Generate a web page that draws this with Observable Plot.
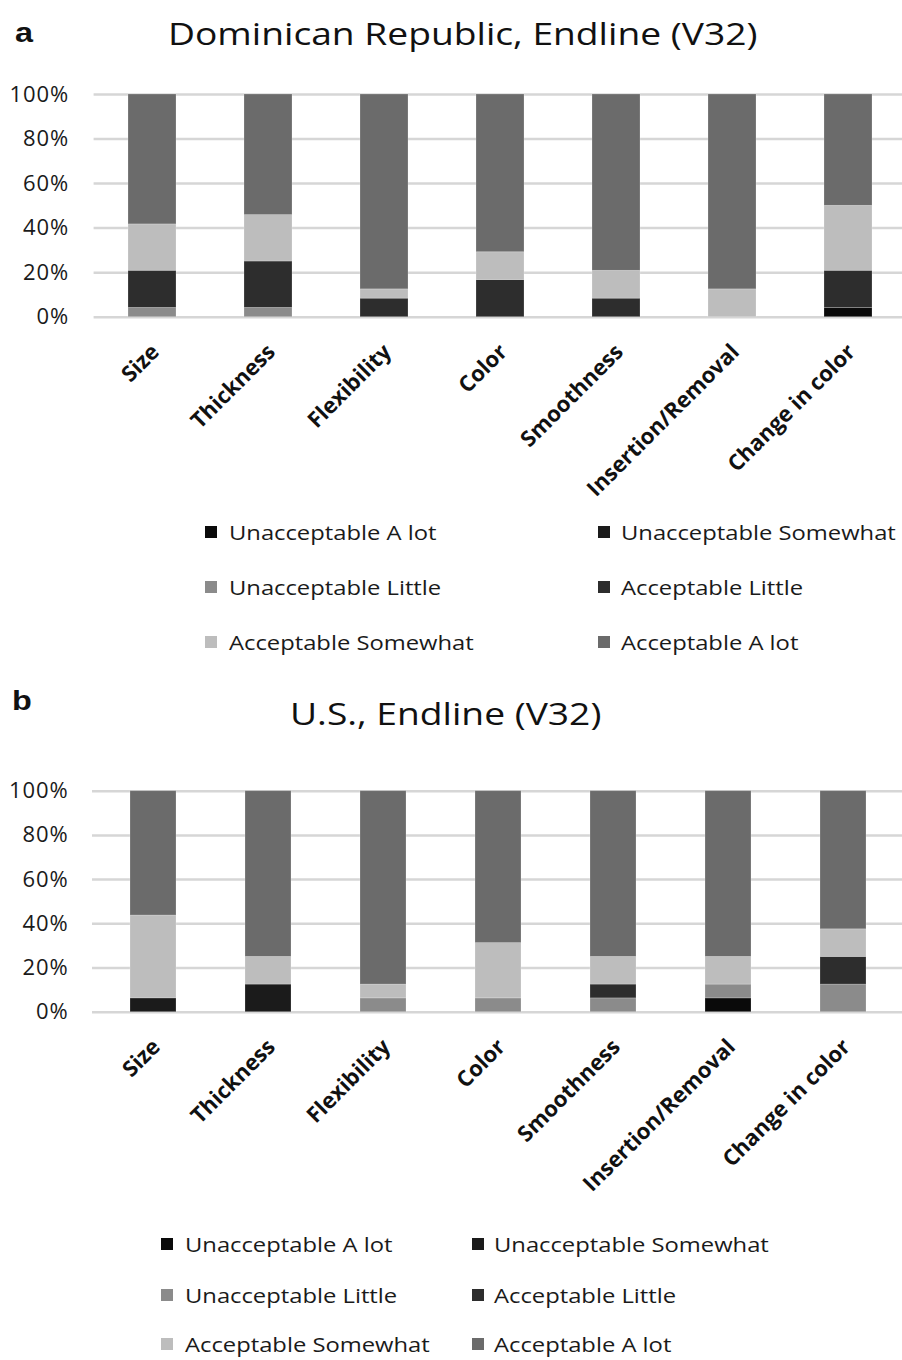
<!DOCTYPE html>
<html>
<head>
<meta charset="utf-8">
<script src="https://cdn.jsdelivr.net/npm/d3@7"></script>
<script src="https://cdn.jsdelivr.net/npm/@observablehq/plot@0.6"></script>
<style>
  html, body { margin: 0; padding: 0; background: #fff; }
  #root { position: relative; width: 902px; height: 1360px; overflow: hidden; font-family: "Open Sans", sans-serif; }
  .panel { position: absolute; left: 0; }
  #overlay { position: absolute; left: 0; top: 0; pointer-events: none; }
  .panel svg g[aria-label="y-axis tick label"] text { letter-spacing: 0.9px; }
</style>
</head>
<body>
<div id="root">
  <div id="pa" class="panel" style="top:0px"></div>
  <div id="pb" class="panel" style="top:697px"></div>
</div>
<script>
// ---------- data ----------
const categories = ["Size", "Thickness", "Flexibility", "Color", "Smoothness", "Insertion/Removal", "Change in color"];
const responses = ["Unacceptable A lot", "Unacceptable Somewhat", "Unacceptable Little", "Acceptable Little", "Acceptable Somewhat", "Acceptable A lot"];
const shades = ["#0a0a0a", "#1b1b1b", "#8b8b8b", "#2d2d2d", "#bdbdbd", "#6b6b6b"];
const yTicks = [0, 20, 40, 60, 80, 100];
const titleA = "Dominican Republic, Endline (V32)";
const titleB = "U.S., Endline (V32)";

// Panel a: Dominican Republic (percent)
const drUnaccALot    = [0, 0, 0, 0, 0, 0, 4.17];
const drUnaccSomewhat= [0, 0, 0, 0, 0, 0, 0];
const drUnaccLittle  = [4.17, 4.17, 0, 0, 0, 0, 0];
const drAccLittle    = [16.67, 20.83, 8.33, 16.67, 8.33, 0, 16.67];
const drAccSomewhat  = [20.83, 20.83, 4.17, 12.5, 12.5, 12.5, 29.17];
const drAccALot      = [58.33, 54.17, 87.5, 70.83, 79.17, 87.5, 50];

// Panel b: U.S. (percent)
const usUnaccALot    = [0, 0, 0, 0, 0, 6.25, 0];
const usUnaccSomewhat= [6.25, 12.5, 0, 0, 0, 0, 0];
const usUnaccLittle  = [0, 0, 6.25, 6.25, 6.25, 6.25, 12.5];
const usAccLittle    = [0, 0, 0, 0, 6.25, 0, 12.5];
const usAccSomewhat  = [37.5, 12.5, 6.25, 25, 12.5, 12.5, 12.5];
const usAccALot      = [56.25, 75, 87.5, 68.75, 75, 75, 62.5];

// ---------- build tables ----------
function table(series) {
  const rows = [];
  series.forEach((vals, si) => vals.forEach((v, ci) => rows.push({category: categories[ci], response: responses[si], value: v})));
  return rows;
}
const drRows = table([drUnaccALot, drUnaccSomewhat, drUnaccLittle, drAccLittle, drAccSomewhat, drAccALot]);
const usRows = table([usUnaccALot, usUnaccSomewhat, usUnaccLittle, usAccLittle, usAccSomewhat, usAccALot]);

function panel(rows, o) {
  const H = 480;
  return Plot.plot({
    width: 902, height: H,
    marginTop: o.y100, marginBottom: H - o.y0, marginLeft: o.xLeft, marginRight: 0,
    style: {fontFamily: "Open Sans", fontSize: "22px", color: "#1a1a1a", background: "transparent", overflow: "visible"},
    x: {domain: categories, range: [o.xLeft, o.xRight], paddingInner: o.pad, paddingOuter: o.pad / 2, axis: null},
    y: {domain: [0, 100], ticks: yTicks, tickFormat: d => d + "%", tickSize: 0, tickPadding: o.tickPad, label: null},
    color: {domain: responses, range: shades},
    marks: [
      Plot.ruleY(yTicks, {stroke: "#d6d6d6", strokeWidth: 2.5}),
      Plot.barY(rows, {x: "category", y: "value", fill: "response", order: responses, stroke: "#ffffff", strokeOpacity: 0.25, strokeWidth: 0.8}),
      Plot.text(categories, {x: d => d, frameAnchor: "bottom", text: d => d, rotate: -45, textAnchor: "end", lineAnchor: "top",
        dx: -3, dy: 25, fontWeight: "bold", fontSize: 22, fill: "#111"})
    ]
  });
}

document.getElementById("pa").appendChild(panel(drRows, {y100: 94, y0: 316.7, xLeft: 93.6, xRight: 906, pad: 0.588, tickPad: 25}));
document.getElementById("pb").appendChild(panel(usRows, {y100: 93.7, y0: 314.7, xLeft: 92, xRight: 903.3, pad: 0.598, tickPad: 24}));

// ---------- overlay text: panel labels, titles, legends ----------
const svg = d3.select("#root").append("svg").attr("id", "overlay").attr("width", 902).attr("height", 1360);
function stretched(x, y, str, size, weight, fill, sx, family) {
  return svg.append("text").attr("transform", `translate(${x},${y}) scale(${sx},1)`)
    .attr("font-family", family || "Open Sans").attr("font-size", size).attr("font-weight", weight || "normal")
    .attr("fill", fill || "#1a1a1a").text(str);
}
stretched(15, 42, "a", 27, "bold", "#111", 1.2, "Liberation Sans");
stretched(12, 710, "b", 27, "bold", "#111", 1.2, "Liberation Sans");

stretched(168, 45, titleA, 31, "normal", "#111", 1.2);
stretched(290, 725, titleB, 31, "normal", "#111", 1.2);

function legend(cols, rowsY, textOffsets) {
  responses.forEach((r, i) => {
    const col = i % 2, row = Math.floor(i / 2);
    const x = cols[col], y = rowsY[row];
    svg.append("rect").attr("x", x).attr("y", y - 6).attr("width", 12).attr("height", 12).attr("fill", shades[i]);
    stretched(x + textOffsets[col], y + 7.5, r, 20.5, "normal", "#1a1a1a", 1.16);
  });
}
legend([205, 598], [532, 587, 642], [24, 23]);
legend([161, 472], [1244, 1295, 1344], [24, 22]);
</script>
</body>
</html>
